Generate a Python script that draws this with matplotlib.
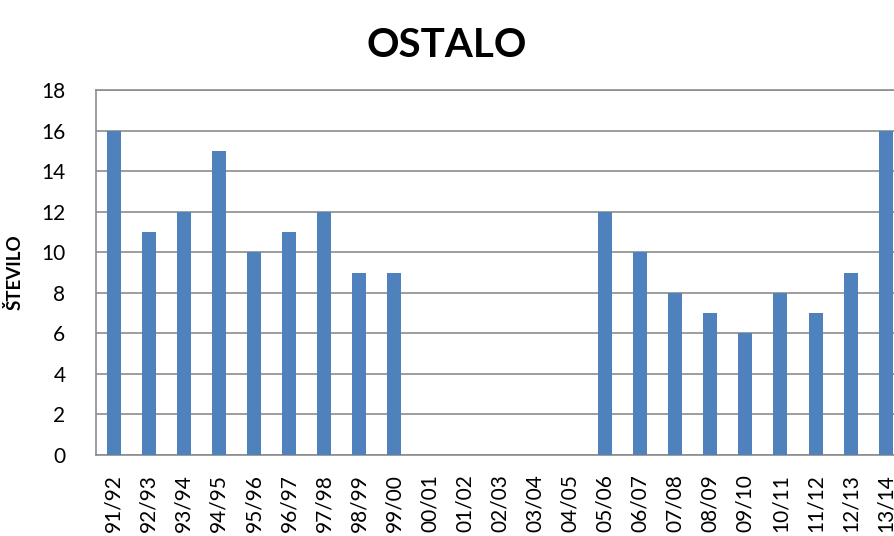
import matplotlib
matplotlib.use("Agg")
import matplotlib.pyplot as plt
import numpy as np

plt.rcParams['font.family'] = ['Lato', 'DejaVu Sans']

seasons = ['91/92', '92/93', '93/94', '94/95', '95/96', '96/97', '97/98', '98/99',
           '99/00', '00/01', '01/02', '02/03', '03/04', '04/05', '05/06', '06/07',
           '07/08', '08/09', '09/10', '10/11', '11/12', '12/13', '13/14']
counts = [16, 11, 12, 15, 10, 11, 12, 9, 9, 0, 0, 0, 0, 0, 12, 10, 8, 7, 6, 8, 7, 9, 16]

fig = plt.figure(figsize=(8.94, 5.36), dpi=100)
# the original screenshot cuts the chart off on the right, so the axes run past the edge
ax = fig.add_axes([0.1074, 0.1511, 0.903, 0.681])

x = np.arange(len(seasons))
ax.bar(x, counts, width=0.4, color='#4F81BD', zorder=3)

ax.set_xlim(-0.5, len(seasons) - 0.5)
ax.set_ylim(0, 18)
ax.set_yticks(range(0, 19, 2))
ax.yaxis.grid(True, color='#8C8C8C', linewidth=1.2, zorder=0)

ax.set_xticks(x)
ax.set_xticklabels(seasons, rotation=90, fontsize=15)
ax.tick_params(axis='x', length=0, pad=14)
ax.tick_params(axis='y', length=0, pad=22, labelsize=15)

for s in ax.spines.values():
    s.set_color('#8C8C8C')
    s.set_linewidth(1.2)

ax.set_ylabel('ŠTEVILO', fontsize=13.5, fontweight='bold', labelpad=13)
fig.suptitle('OSTALO', fontsize=29, fontweight='bold', y=0.95)

fig.savefig('out.png', dpi=100)
